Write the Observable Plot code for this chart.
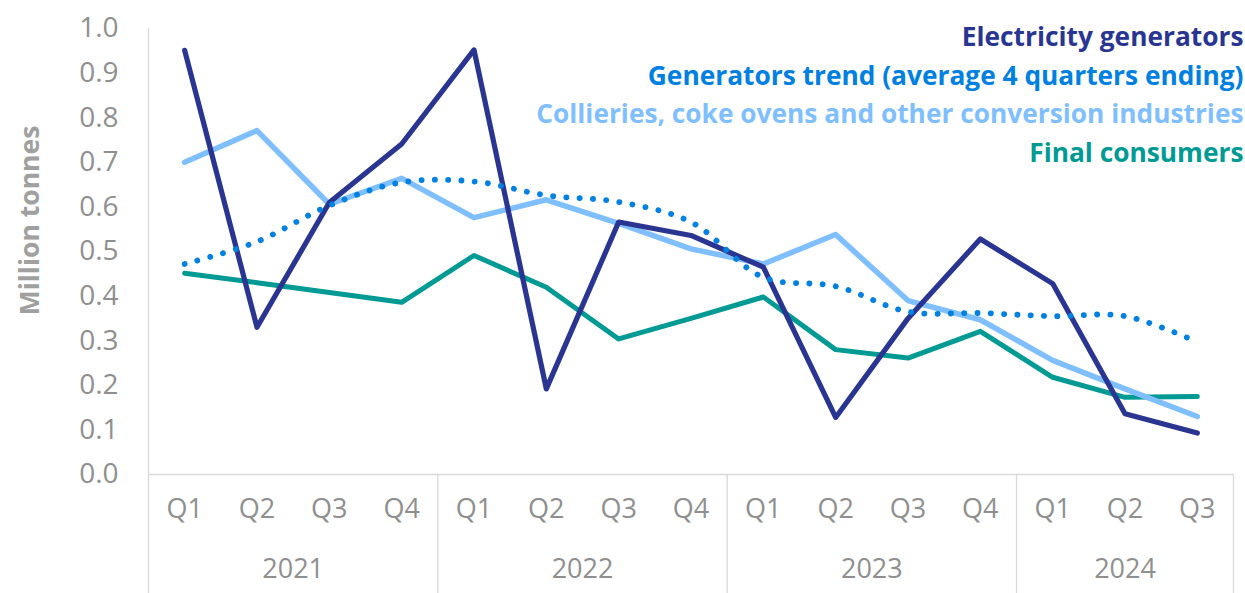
<!DOCTYPE html>
<html>
<head>
<meta charset="utf-8">
<script src="https://cdn.jsdelivr.net/npm/d3@7"></script>
<script src="https://cdn.jsdelivr.net/npm/@observablehq/plot@0.6"></script>
<style>
  html, body { margin: 0; padding: 0; background: #fff; }
  #chart { position: relative; width: 1245px; height: 593px; }
</style>
</head>
<body>
<div id="chart"></div>
<script>
const years = ["2021", "2022", "2023", "2024"];
const quarters = ["Q1","Q2","Q3","Q4","Q1","Q2","Q3","Q4","Q1","Q2","Q3","Q4","Q1","Q2","Q3"];
const quarterYears = ["2021","2021","2021","2021","2022","2022","2022","2022","2023","2023","2023","2023","2024","2024","2024"];

const electricityGenerators = [0.951, 0.330, 0.610, 0.741, 0.952, 0.192, 0.566, 0.536, 0.465, 0.128, 0.350, 0.528, 0.428, 0.136, 0.093];
const generatorsTrend       = [0.472, 0.522, 0.603, 0.655, 0.657, 0.626, 0.611, 0.566, 0.442, 0.422, 0.365, 0.362, 0.355, 0.355, 0.297];
const collieries            = [0.700, 0.771, 0.606, 0.664, 0.576, 0.616, 0.563, 0.506, 0.472, 0.538, 0.390, 0.347, 0.256, 0.192, 0.130];
const finalConsumers        = [0.451, 0.430, 0.408, 0.386, 0.491, 0.420, 0.304, 0.350, 0.398, 0.280, 0.261, 0.321, 0.218, 0.173, 0.175];

const seriesNames = [
  "Electricity generators",
  "Generators trend (average 4 quarters ending)",
  "Collieries, coke ovens and other conversion industries",
  "Final consumers"
];
const seriesColors = ["#2A3592", "#0080E0", "#7FBFFF", "#009A95"];
const yTicks = [0, 0.1, 0.2, 0.3, 0.4, 0.5, 0.6, 0.7, 0.8, 0.9, 1.0];

const idx = quarters.map((q, i) => i);
const toRows = vals => vals.map((v, i) => ({i, v}));

// year group boundaries and centres computed from the quarter list
const yearGroups = years.map(y => {
  const ids = idx.filter(i => quarterYears[i] === y);
  return {year: y, start: d3.min(ids) - 0.5, end: d3.max(ids) + 0.5, mid: d3.mean(ids)};
});
const separators = Array.from(new Set(yearGroups.flatMap(g => [g.start, g.end])));
const innerSeparators = separators.filter(s => s !== d3.min(separators));

const font = "'Open Sans', sans-serif";
const grid = "#D9D9D9";
const tickGray = "#8F8F8F";

const legendMarks = seriesNames.map((name, i) =>
  Plot.text([name], {frameAnchor: "top-right", dx: 10, dy: 9 + i * 38.7, text: d => d,
    textAnchor: "end", lineAnchor: "middle", fontSize: 26.3, fontWeight: "bold", fill: seriesColors[i]})
);

const plot = Plot.plot({
  width: 1245,
  height: 593,
  marginLeft: 148,
  marginRight: 12,
  marginTop: 28,
  marginBottom: 119,
  style: {fontFamily: font, background: "#fff", overflow: "visible"},
  x: {type: "linear", domain: [d3.min(separators), d3.max(separators)], axis: null},
  y: {domain: [0, 1], axis: null},
  marks: [
    // left axis line (full height incl. category area)
    Plot.ruleX([d3.min(separators)], {stroke: grid, strokeWidth: 1.3, insetBottom: -119}),
    // year separators in category area
    Plot.ruleX(innerSeparators, {stroke: grid, strokeWidth: 1.3, insetTop: 446, insetBottom: -119}),
    // baseline
    Plot.ruleY([0], {stroke: grid, strokeWidth: 1.5}),
    // y tick labels
    Plot.axisY({ticks: yTicks, tickFormat: d3.format(".1f"), tickSize: 0, tickPadding: 30,
      fontSize: 28, color: tickGray, label: null}),
    Plot.text(["Million tonnes"], {frameAnchor: "top-left", dx: -118, dy: 192, rotate: -90,
      textAnchor: "middle", lineAnchor: "middle",
      fontSize: 26.5, fontWeight: "bold", fill: "#A0A0A0", text: d => d}),
    // quarter labels
    Plot.text(idx, {x: d => d, frameAnchor: "bottom", dy: 43, text: i => quarters[i],
      fontSize: 27, fill: tickGray}),
    // year labels
    Plot.text(yearGroups, {x: "mid", frameAnchor: "bottom", dy: 103, text: "year",
      fontSize: 27, fill: tickGray}),
    // series lines
    Plot.line(toRows(finalConsumers), {x: "i", y: "v", stroke: seriesColors[3], strokeWidth: 5, strokeLinejoin: "round", strokeLinecap: "round"}),
    Plot.line(toRows(collieries), {x: "i", y: "v", stroke: seriesColors[2], strokeWidth: 5.5, strokeLinejoin: "round", strokeLinecap: "round"}),
    Plot.line(toRows(electricityGenerators), {x: "i", y: "v", stroke: seriesColors[0], strokeWidth: 5.2, strokeLinejoin: "round", strokeLinecap: "round"}),
    Plot.line(toRows(generatorsTrend), {x: "i", y: "v", stroke: seriesColors[1], strokeWidth: 5.8, curve: "catmull-rom",
      strokeDasharray: "0.1 13.2", strokeLinecap: "round"}),
    ...legendMarks
  ]
});
document.getElementById("chart").appendChild(plot);
</script>
</body>
</html>
